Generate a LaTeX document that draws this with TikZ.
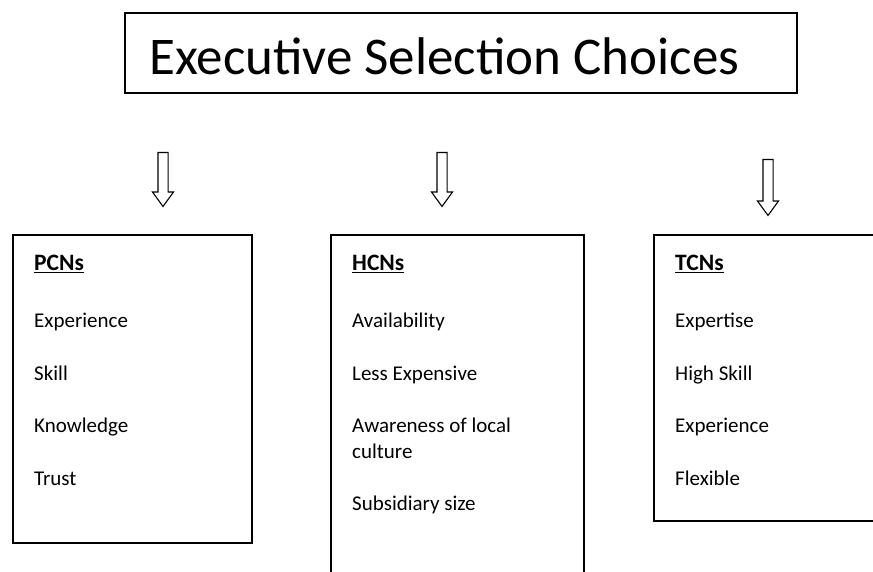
\documentclass[tikz,border=0pt]{standalone}
\usepackage{fontspec}
\setmainfont{Carlito}
\usetikzlibrary{shapes.arrows}

\newsavebox{\headbox}
\newcommand{\ulhead}[1]{\sbox{\headbox}{#1}\rlap{\rule[-3.4pt]{\wd\headbox}{1.9pt}}\usebox{\headbox}}

\tikzset{
  item/.style={anchor=base west, inner sep=0pt, font=\fontsize{21}{26}\selectfont},
  head/.style={item, font=\fontsize{23.5}{28}\selectfont\bfseries},
  box/.style={draw, line width=1.2pt},
  downarrow/.style={draw, line width=1.1pt, single arrow, rotate=-90, inner sep=4.5pt,
    single arrow head extend=5.5pt, single arrow head indent=0pt, single arrow tip angle=72}
}

\begin{document}
\begin{tikzpicture}[x=1pt, y=-1pt]
\useasboundingbox (0,0) rectangle (873,572);

\draw[box] (125,13) rectangle (797,93);
\node[item, font=\fontsize{53}{60}\selectfont] (title) at (149,75) {Executive Selection Choices};

\node[downarrow, minimum height=54pt] (arrowP) at (163,176) {};
\node[downarrow, minimum height=54pt] (arrowH) at (442,176) {};
\node[downarrow, minimum height=56pt] (arrowT) at (768,184) {};

% parent country nationals
\draw[box] (13,235) rectangle (252,543);
\node[head] (pcn) at (34,270) {\ulhead{PCNs}};
\node[item] (pcn1) at (34,327) {Experience};
\node[item] (pcn2) at (34,380) {Skill};
\node[item] (pcn3) at (34,432) {Knowledge};
\node[item] (pcn4) at (34,485) {Trust};

% host country nationals
\draw[box] (331,235) rectangle (584,590);
\node[head] (hcn) at (352,270) {\ulhead{HCNs}};
\node[item] (hcn1) at (352,327) {Availability};
\node[item] (hcn2) at (352,380) {Less Expensive};
\node[item] (hcn3) at (352,432) {\begin{tabular}[t]{@{}l@{}}Awareness of local\\culture\end{tabular}};
\node[item] (hcn4) at (352,510) {Subsidiary size};

% third country nationals
\draw[box] (654,235) rectangle (890,521);
\node[head] (tcn) at (675,270) {\ulhead{TCNs}};
\node[item] (tcn1) at (675,327) {Expertise};
\node[item] (tcn2) at (675,380) {High Skill};
\node[item] (tcn3) at (675,432) {Experience};
\node[item] (tcn4) at (675,485) {Flexible};

\end{tikzpicture}
\end{document}
